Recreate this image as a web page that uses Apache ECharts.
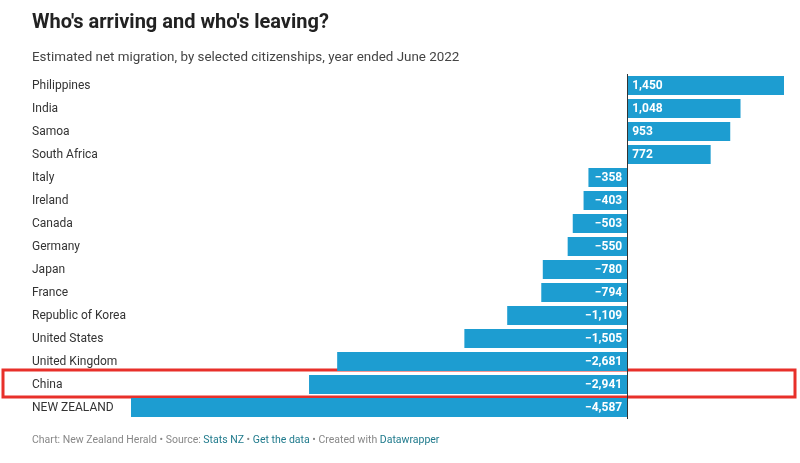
<!DOCTYPE html><html><head><meta charset="utf-8"><script src="https://cdn.jsdelivr.net/npm/echarts@6/dist/echarts.min.js"></script>
<style>body{margin:0}#c{width:800px;height:463px}</style></head><body><div id="c"></div><script>
const categories=["Philippines","India","Samoa","South Africa","Italy","Ireland","Canada","Germany","Japan","France","Republic of Korea","United States","United Kingdom","China","NEW ZEALAND"];
const values=[1450,1048,953,772,-358,-403,-503,-550,-780,-794,-1109,-1505,-2681,-2941,-4587];
const fmt=v=>v<0?'\u2212'+Math.abs(v).toLocaleString('en-US'):v.toLocaleString('en-US');
const ch=echarts.init(document.getElementById('c'));
ch.setOption({
 animation:false,
 grid:{left:131,right:16,top:74,height:345},
 xAxis:{type:'value',min:-4587,max:1450,show:false},
 yAxis:{type:'category',data:categories,inverse:true,axisLine:{show:false},axisTick:{show:false},
  axisLabel:{align:'left',margin:99,color:'#333',fontFamily:'Roboto',fontSize:12}},
 series:[{type:'bar',barWidth:19,data:values.map(v=>({value:v,label:{position:v>0?'insideLeft':'insideRight'}})),itemStyle:{color:'#1d9dd1'},
  label:{show:true,color:'#fff',fontFamily:'Roboto',fontSize:12,fontWeight:'bold',formatter:p=>fmt(p.value)},
  markLine:{silent:true,symbol:'none',label:{show:false},lineStyle:{color:'#333',width:1,type:'solid'},data:[{xAxis:0}]}}],
 graphic:[
  {type:'text',left:32,top:13,style:{text:"Who's arriving and who's leaving?",font:'bold 20px Roboto',fill:'#222'}},
  {type:'text',left:32,top:51,style:{text:'Estimated net migration, by selected citizenships, year ended June 2022',font:'13.4px Roboto',fill:'#444'}},
  {type:'rect',shape:{x:3,y:370,width:792,height:27},style:{fill:'none',stroke:'#e8302a',lineWidth:3}},
  {type:'text',left:32,top:435,style:{text:'{g|Chart: New Zealand Herald • Source: }{b|Stats NZ}{g| • }{b|Get the data}{g| • Created with }{b|Datawrapper}',
   rich:{g:{fill:'#888',font:'10.5px Roboto'},b:{fill:'#1f7a8c',font:'10.5px Roboto'}}}}
 ]
});
</script></body></html>
